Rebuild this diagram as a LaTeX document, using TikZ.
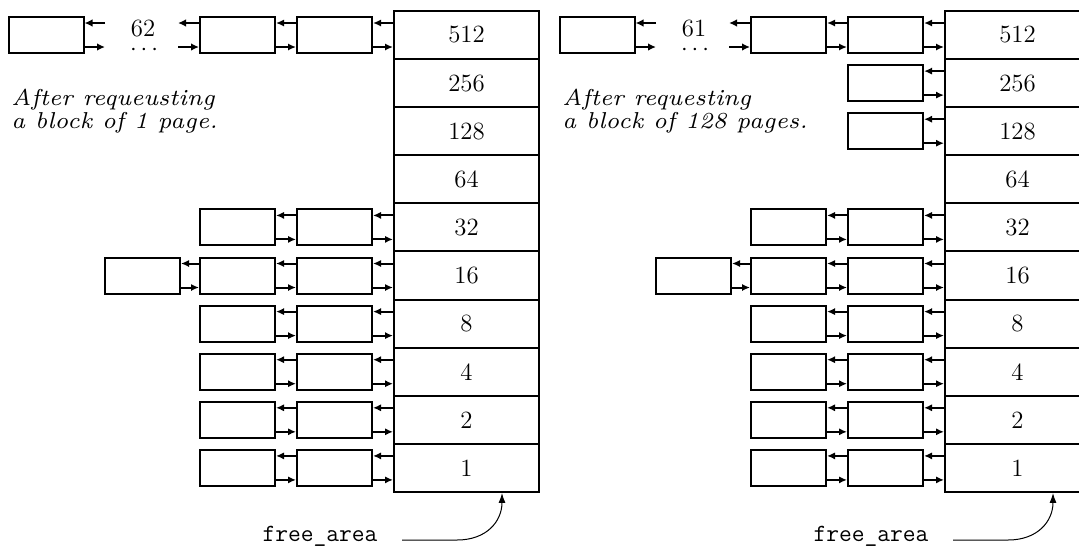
\documentclass[tikz,border=0pt]{standalone}
\usepackage{fontspec}
\newfontface\noteit{lmroman7-italic}[Extension=.otf]
\usetikzlibrary{arrows.meta,calc}
\tikzset{
 x=0.5pt,y=-0.5pt,
 cell/.style={draw,line width=1pt,minimum width=72.5pt,minimum height=24.05pt,inner sep=0pt,font=\fontsize{12.4}{15}\selectfont},
 blk/.style={draw,line width=1pt,minimum width=37.5pt,minimum height=18pt,inner sep=0pt},
 arr/.style={line width=1pt,-{Latex[length=4pt,width=3.6pt]}},
 stub/.style={line width=1.4pt,-{Latex[length=4pt,width=3.8pt]}},
 curve/.style={line width=0.5pt,-{Latex[length=5pt,width=3.5pt]}},
 lbl/.style={font=\fontsize{12.4}{15}\selectfont,inner sep=0pt},
 note/.style={font=\noteit\fontsize{11.5}{11pt}\selectfont,inner sep=0pt,anchor=base west},
}
\newcommand\linkrow[2]{%
 \draw[arr] ([yshift=6pt]#2.west) -- ([yshift=6pt]#1.east);
 \draw[arr] ([yshift=-6pt]#1.east) -- ([yshift=-6pt]#2.west);}
\newcommand\drawpanel[5]{%
\begin{scope}[xshift=#2]
 \foreach \v [count=\i from 0] in {512,256,128,64,32,16,8,4,2,1}
   \node[cell] (#1c\v) at (466.5,{35+48.1*\i}) {\v};
 \foreach \v/\i in {512/0,32/4,16/5,8/6,4/7,2/8,1/9}{
   \node[blk] (#1B\v) at (237.5,{35+48.1*\i}) {};
   \node[blk] (#1C\v) at (334.5,{35+48.1*\i}) {};
   \linkrow{#1C\v}{#1c\v}
   \linkrow{#1B\v}{#1C\v}
 }
 \node[blk] (#1X16) at (142.5,{35+48.1*5}) {};
 \linkrow{#1X16}{#1B16}
 \node[blk] (#1A) at (46,35) {};
 \coordinate (#1a1) at (105,23); \coordinate (#1a2) at (105,47);
 \coordinate (#1b1) at (178,23); \coordinate (#1b2) at (178,47);
 \draw[stub] (#1a1) -- ([yshift=6pt]#1A.east);
 \draw[stub] ([yshift=-6pt]#1A.east) -- (#1a2);
 \draw[stub] ([yshift=6pt]#1B512.west) -- (#1b1);
 \draw[stub] (#1b2) -- ([yshift=-6pt]#1B512.west);
 \node[lbl] (#1n) at (143,29) {#3};
 \node[lbl] (#1d) at (144,50) {$\cdots$};
 \node[note] (#1t) at (11,105) {#4};
 \node[note] (#1u) at (11,128) {#5};
 \node[lbl,font=\fontsize{12.4}{15}\selectfont\ttfamily] (#1f) at (320,536) {free\_area};
 \coordinate (#1l0) at (402,540); \coordinate (#1l1) at (457,540);
 \draw[curve] (#1l0) -- (#1l1) .. controls +(30,0) and +(0,28) .. ([xshift=17.75pt]#1c1.south);
\end{scope}}
\begin{document}
\begin{tikzpicture}
\useasboundingbox (0,0) rectangle (1079,547);
\drawpanel{L}{0pt}{62}{After requeusting}{a block of 1 page.}
\drawpanel{R}{275.5pt}{61}{After requesting}{a block of 128 pages.}
\begin{scope}[xshift=275.5pt]
 \foreach \v/\i in {256/1,128/2}{
   \node[blk] (RC\v) at (334.5,{35+48.1*\i}) {};
   \linkrow{RC\v}{Rc\v}
 }
\end{scope}
\end{tikzpicture}
\end{document}
